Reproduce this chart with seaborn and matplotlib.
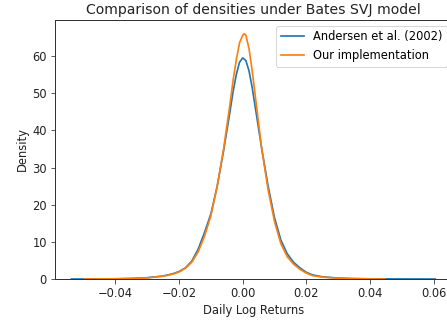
import numpy as np
import pandas as pd
import seaborn as sns
import matplotlib
matplotlib.use("Agg")
import matplotlib.pyplot as plt

series_names = ["Andersen et al. (2002)", "Our implementation"]

andersen_x = [-0.0538, -0.045, -0.04, -0.035, -0.03, -0.025, -0.022, -0.02, -0.018, -0.016,
              -0.014, -0.012, -0.010, -0.008, -0.006, -0.004, -0.003, -0.002, -0.001, 0.0,
              0.001, 0.002, 0.003, 0.004, 0.006, 0.008, 0.010, 0.012, 0.014, 0.016,
              0.018, 0.020, 0.022, 0.025, 0.03, 0.035, 0.04, 0.05, 0.0605]
andersen_y = [0.0, 0.02, 0.05, 0.15, 0.35, 0.8, 1.4, 2.0, 3.0, 4.8,
              8.0, 12.5, 17.5, 25.0, 34.5, 45.0, 50.5, 55.0, 58.3, 59.5,
              58.8, 56.0, 51.5, 46.0, 35.0, 25.0, 16.5, 10.5, 6.8, 4.5,
              3.0, 1.8, 1.1, 0.6, 0.25, 0.1, 0.05, 0.01, 0.0]

ours_x = [-0.0498, -0.045, -0.04, -0.035, -0.03, -0.025, -0.022, -0.02, -0.018, -0.016,
          -0.014, -0.012, -0.010, -0.008, -0.006, -0.004, -0.003, -0.002, -0.001, 0.0,
          0.0005, 0.001, 0.002, 0.003, 0.004, 0.006, 0.008, 0.010, 0.012, 0.014,
          0.016, 0.018, 0.020, 0.022, 0.025, 0.03, 0.035, 0.04, 0.0447]
ours_y = [0.0, 0.02, 0.05, 0.13, 0.3, 0.75, 1.3, 1.9, 2.9, 4.5,
          7.3, 11.5, 17.0, 25.0, 35.0, 47.0, 53.5, 59.0, 63.5, 65.6,
          66.0, 65.6, 62.0, 56.0, 49.0, 35.0, 24.0, 15.5, 9.5, 6.0,
          4.0, 2.6, 1.6, 0.9, 0.5, 0.2, 0.08, 0.03, 0.0]

df = pd.concat([
    pd.DataFrame({"x": andersen_x, "y": andersen_y, "model": series_names[0]}),
    pd.DataFrame({"x": ours_x, "y": ours_y, "model": series_names[1]}),
], ignore_index=True)

fig = plt.figure(figsize=(447 / 72, 322 / 72), dpi=72)
ax = fig.add_axes([55 / 447, 43 / 322, 397.6 / 447, 259 / 322])

sns.lineplot(data=df, x="x", y="y", hue="model", palette=["#1f77b4", "#ff7f0e"],
             linewidth=1.7, sort=False, estimator=None, ax=ax)

for s in ax.spines.values():
    s.set_color("#333333")
    s.set_linewidth(1.0)

ax.set_xlim(-0.059, 0.066)
ax.set_ylim(0, 69.7)
ax.set_xticks([-0.04, -0.02, 0.0, 0.02, 0.04, 0.06])
ax.set_xticklabels(["\u22120.04", "\u22120.02", "0.00", "0.02", "0.04", "0.06"])
ax.set_yticks([0, 10, 20, 30, 40, 50, 60])
ax.tick_params(labelsize=11.5, length=4.5, color="#333333", labelcolor="#222222")
ax.set_xlabel("Daily Log Returns", fontsize=11.5, color="#222222")
ax.set_ylabel("Density", fontsize=11.5, color="#222222")
ax.set_title("Comparison of densities under Bates SVJ model", fontsize=14, color="#222222")
ax.legend(title=None, loc="upper right", fontsize=11.5)

fig.savefig("out.png", dpi=72)
